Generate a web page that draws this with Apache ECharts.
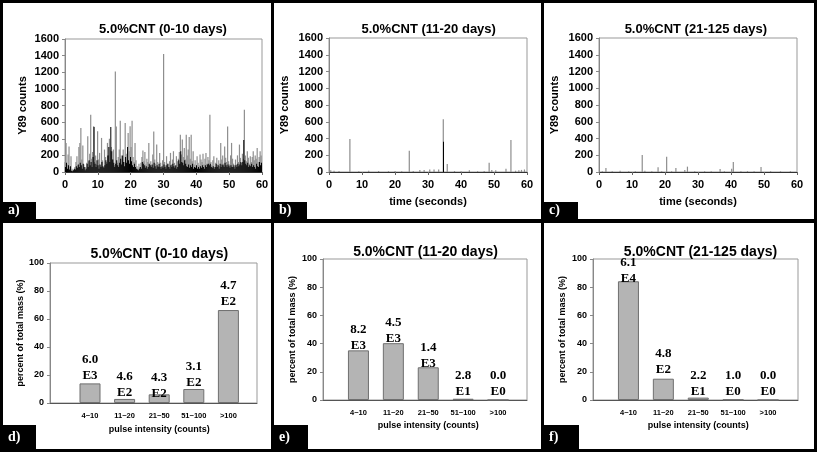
<!DOCTYPE html>
<html><head><meta charset="utf-8">
<script src="https://cdn.jsdelivr.net/npm/echarts@6/dist/echarts.min.js"></script>
<style>html,body{margin:0;padding:0;background:#fff}#c{width:817px;height:452px}</style>
</head><body><div id="c"></div>
<script>
// ---------- data ----------
const timeStep = 0.3; // seconds between samples in panel a
const aGray = [
120,348,90,210,308,60,188,40,20,30, 60,120,190,80,300,350,528,150,320,90,
40,60,110,430,130,220,690,160,240,550, 120,200,90,490,150,230,80,410,140,60,
270,180,120,350,200,400,260,300,150,270, 80,1208,548,110,180,270,616,200,150,270,
120,588,220,160,470,250,550,300,616,180, 120,350,140,70,40,100,60,110,180,260,
130,240,90,160,120,350,90,130,80,210, 488,150,100,330,120,70,230,110,60,140,
1420,120,80,190,100,60,130,230,90,150, 250,110,70,190,130,160,240,448,210,390,
180,290,150,448,200,270,420,160,448,130, 250,90,140,60,190,110,80,210,150,120,
220,90,160,230,100,180,140,688,120,80, 140,190,60,110,170,90,140,70,350,150,
200,100,308,170,120,548,130,90,200,350, 160,100,60,150,90,200,120,330,170,110,
220,160,750,200,130,250,170,100,190,120, 180,250,140,200,160,290,120,180,250,200
];
const aBlack = [
60,110,40,80,30,70,15,10,20,40, 30,70,50,90,60,110,80,40,100,60,
20,40,100,60,140,80,120,60,180,540, 100,60,140,80,40,90,60,120,70,50,
80,140,100,200,300,120,540,250,150,110, 60,100,140,80,60,110,160,90,200,120,
70,180,110,300,140,100,180,130,80,60, 100,60,40,30,20,40,60,40,120,100,
80,50,70,40,60,100,80,60,90,50, 110,70,40,80,60,100,60,40,70,50,
90,60,40,80,100,60,40,80,60,100, 70,50,80,40,60,140,100,250,120,110,
80,140,100,70,60,90,50,80,60,100, 40,60,50,80,40,60,40,70,50,80,
60,40,80,60,90,100,80,100,60,50, 70,40,60,100,60,80,40,100,60,90,
80,60,110,80,60,90,70,50,80,60, 60,80,40,80,60,100,70,90,120,80,
120,384,140,100,80,110,60,80,70,100, 60,80,60,40,100,70,60,120,80,110
];
const bTimes  = [0.5,1.5,3,6.3,9,12,15,18,20,22,24.3,25.5,27.5,28.8,30.5,31.8,33.2,34.6,35.8,38,40,42.5,45,47,48.5,49.3,50.5,53.6,55.1,56.5,57.5,58.3,59.2];
const bValues = [20,15,12,394,10,15,12,10,12,10,254,12,25,25,30,30,30,629,95,12,10,20,10,12,111,25,20,40,382,15,20,25,30];
const bBlackTimes  = [34.7];
const bBlackValues = [362];
const cTimes  = [1,2.1,4,6.4,9,11,13.1,13.9,16,17.9,19,20.5,22,23.3,26,26.8,29,32,34,36.7,38,40.2,40.7,43,45,47,49.1,52,55,58];
const cValues = [10,48,10,15,8,10,203,15,10,56,10,183,10,48,25,64,10,8,10,35,10,40,120,10,10,10,60,10,8,10];

const categories = ['4~10','11~20','21~50','51~100','>100'];
const dValues = [14.0, 2.9, 6.2, 10.0, 66.4];
const dMant = ['6.0','4.6','4.3','3.1','4.7'];
const dExp  = ['E3','E2','E2','E2','E2'];
const eValues = [35.2, 40.3, 23.2, 0.9, 0];
const eMant = ['8.2','4.5','1.4','2.8','0.0'];
const eExp  = ['E3','E3','E3','E1','E0'];
const fValues = [84.2, 15.1, 1.7, 0.3, 0];
const fMant = ['6.1','4.8','2.2','1.0','0.0'];
const fExp  = ['E4','E2','E1','E0','E0'];

const topTitles = ['5.0%CNT (0-10 days)','5.0%CNT (11-20 days)','5.0%CNT (21-125 days)'];
const panelLetters = ['a)','b)','c)','d)','e)','f)'];

// ---------- layout / style ----------
const SANS = 'Liberation Sans, Arial, sans-serif';
const SERIF = 'Liberation Serif, Times New Roman, serif';
const dLabelOff = [0,2,7,2,0];
const eLabelOff = [3,3,4,1,0];
const fLabelOff = [5,-1,2,0,0];
const plain = v => String(v);

const grids = [
  {left:65, top:39, width:197, height:133},
  {left:329, top:38, width:198, height:134},
  {left:599, top:38, width:198, height:134},
  {left:50, top:263, width:207, height:140},
  {left:72.7, top:263, width:173, height:140},
  {left:323, top:259, width:204, height:141},
  {left:341, top:259, width:174.5, height:141},
  {left:593, top:259, width:205, height:141},
  {left:611, top:259, width:174.5, height:141}
].map((g,i)=>Object.assign({show:[0,1,2,3,5,7].includes(i), borderColor:'#999', borderWidth:1, backgroundColor:'transparent'}, g));

const xAxes = [], yAxes = [];
const tsNameGap = [36.5,38.5,38.5];
for (let k=0;k<3;k++){
  xAxes.push({gridIndex:k, type:'value', min:0, max:60, interval:10,
    axisLine:{show:true,onZero:false,lineStyle:{color:'#333'}},
    axisTick:{show:true,length:3,lineStyle:{color:'#666'}},
    axisLabel:{fontSize:11,fontWeight:'bold',color:'#000',fontFamily:SANS,margin:7,formatter:plain},
    splitLine:{show:false},
    name:'time (seconds)', nameLocation:'middle', nameGap:24,
    nameTextStyle:{fontSize:11,fontWeight:'bold',color:'#000',fontFamily:SANS}});
  yAxes.push({gridIndex:k, type:'value', min:0, max:1600, interval:200,
    axisLine:{show:true,lineStyle:{color:'#888'}},
    axisTick:{show:true,length:3,lineStyle:{color:'#888'}},
    axisLabel:{fontSize:11,fontWeight:'bold',color:'#000',fontFamily:SANS,margin:6,formatter:plain},
    splitLine:{show:false},
    name:'Y89 counts', nameLocation:'middle', nameGap:tsNameGap[k],
    nameTextStyle:{fontSize:11,fontWeight:'bold',color:'#000',fontFamily:SANS}});
}
const barNameGap = [22.5,25.5,25.5];
const catNameGap = [22,21.5,21.5];
for (let k=0;k<3;k++){
  const gf = 3+2*k, gb = 4+2*k;
  xAxes.push({gridIndex:gf, type:'value', min:0, max:1,
    axisLine:{show:true,onZero:false,lineStyle:{color:'#555'}},
    axisTick:{show:false}, axisLabel:{show:false}, splitLine:{show:false}});
  yAxes.push({gridIndex:gf, type:'value', min:0, max:100, interval:20,
    axisLine:{show:true,lineStyle:{color:'#888'}},
    axisTick:{show:true,length:3,lineStyle:{color:'#888'}},
    axisLabel:{fontSize:9,fontWeight:'bold',color:'#000',fontFamily:SANS,margin:6,formatter:plain},
    splitLine:{show:false},
    name:'percent of total mass (%)', nameLocation:'middle', nameGap:barNameGap[k],
    nameTextStyle:{fontSize:9,fontWeight:'bold',color:'#000',fontFamily:SANS}});
  xAxes.push({gridIndex:gb, type:'category', data:categories,
    axisLine:{show:false}, axisTick:{show:false},
    axisLabel:{fontSize:7.5,fontWeight:'bold',color:'#000',fontFamily:SANS,margin:9,interval:0},
    name:'pulse intensity (counts)', nameLocation:'middle', nameGap:catNameGap[k],
    nameTextStyle:{fontSize:9,fontWeight:'bold',color:'#000',fontFamily:SANS}});
  yAxes.push({gridIndex:gb, type:'value', min:0, max:100, interval:20, show:false});
}

function spikeSeries(axis, data, color, w){
  return {type:'bar', xAxisIndex:axis, yAxisIndex:axis, data, barWidth:w||1, barGap:'-100%',
    itemStyle:{color}, silent:true};
}
function barSeries(axis, values, mant, exp, offs){
  return {type:'bar', xAxisIndex:axis, yAxisIndex:axis, barWidth:21,
    data: values.map((v,i)=>({value:v, label:{offset:[0,offs[i]]}})),
    itemStyle:{color:'#b4b4b4', borderColor:'#6f6f6f', borderWidth:1},
    label:{show:true, position:'top', distance:0,
      formatter:p=>mant[p.dataIndex]+'\n'+exp[p.dataIndex],
      fontFamily:SERIF, fontWeight:'bold', fontSize:13, lineHeight:16, color:'#000'}};
}

const series = [
  spikeSeries(0, aGray.map((v,i)=>[i*timeStep, v]), '#8e8e8e', 1.2),
  spikeSeries(0, aBlack.map((v,i)=>[i*timeStep+timeStep/2, v]), '#000', 1),
  spikeSeries(1, bValues.map((v,i)=>[bTimes[i], v]), '#8e8e8e', 1.2),
  spikeSeries(1, bBlackValues.map((v,i)=>[bBlackTimes[i], v]), '#000', 1),
  spikeSeries(2, cValues.map((v,i)=>[cTimes[i], v]), '#8e8e8e', 1.2),
  barSeries(4, dValues, dMant, dExp, dLabelOff),
  barSeries(6, eValues, eMant, eExp, eLabelOff),
  barSeries(8, fValues, fMant, fExp, fLabelOff)
];

// frame, titles, letter boxes
const graphic = [];
const blk = (x,y,w,h)=>({type:'rect', shape:{x,y,width:w,height:h}, style:{fill:'#000'}, silent:true});
graphic.push(blk(0,0,817,3), blk(0,449,817,3), blk(0,0,3,452), blk(814,0,3,452),
  blk(271,0,3,452), blk(541,0,3,452), blk(0,219,817,4));
const titlePos = [[163,29,13],[428.7,29,13],[695.8,29,13],[159.3,254,14],[425.5,252,14],[700.5,252,14]];
const allTitles = topTitles.concat(topTitles);
titlePos.forEach((p,i)=>graphic.push({type:'text', x:p[0], y:p[1], silent:true,
  style:{text:allTitles[i], fill:'#000', font:'bold '+p[2]+'px '+SANS, align:'center', verticalAlign:'middle', textAlign:'center', textVerticalAlign:'middle'}}));
const boxPos = [[3,202,33,17],[274,202,33,17],[544,202,34,17],[3,425,33,24],[274,425,34,24],[544,425,35,24]];
boxPos.forEach((b,i)=>{
  graphic.push(blk(b[0],b[1],b[2],b[3]));
  graphic.push({type:'text', x:b[0]+5, y:b[1]+b[3]/2, silent:true,
    style:{text:panelLetters[i], fill:'#fff', font:'bold 14px '+SERIF, align:'left', verticalAlign:'middle', textAlign:'left', textVerticalAlign:'middle'}});
});

const chart = echarts.init(document.getElementById('c'));
chart.setOption({animation:false, backgroundColor:'#fff', grid:grids, xAxis:xAxes, yAxis:yAxes, series, graphic});
</script></body></html>
